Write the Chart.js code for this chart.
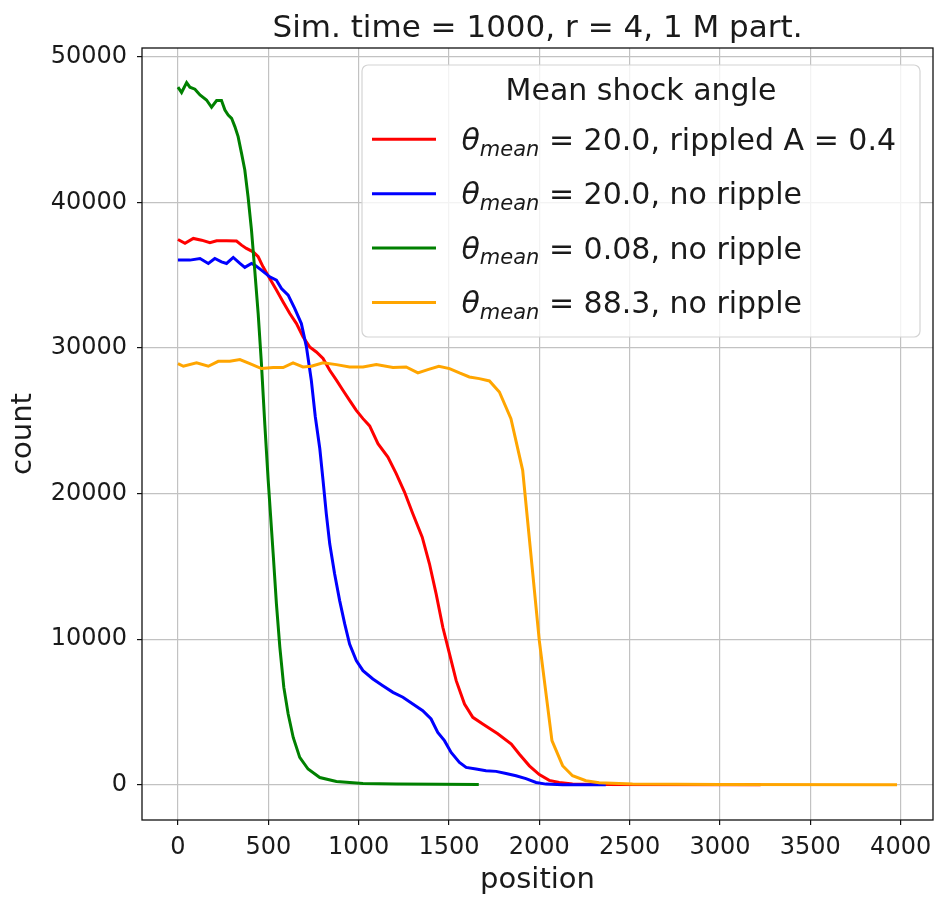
<!DOCTYPE html>
<html>
<head>
<meta charset="utf-8">
<title>Sim. time = 1000, r = 4, 1 M part.</title>
<script src="https://cdn.jsdelivr.net/npm/chart.js@4.4.0/dist/chart.umd.min.js"></script>
<style>
  html, body { margin: 0; padding: 0; background: #fff; }
  canvas { display: block; }
</style>
</head>
<body>
<canvas id="chart" width="936" height="900"></canvas>
<script>
// particle count vs. position, one pair of arrays per run
const redPos = [0, 39, 85, 131, 177, 214, 269, 324, 352, 379, 416, 444, 471, 508, 545, 582, 619, 656, 692, 729,
  766, 803, 840, 877, 913, 950, 987, 1024, 1061, 1107, 1162, 1208, 1254, 1300, 1352, 1392, 1429, 1466, 1503, 1540,
  1586, 1632, 1687, 1770, 1845, 1890, 1945, 2000, 2055, 2110, 2184, 2300, 3225];
const redCount = [37460, 37190, 37530, 37410, 37230, 37370, 37370, 37350, 37070, 36840, 36610, 36270, 35580, 34780, 33980, 33170, 32370, 31680, 30770, 30080,
  29730, 29280, 28470, 27790, 27100, 26410, 25720, 25150, 24650, 23430, 22510, 21370, 20110, 18620, 17010, 15180, 13110, 10820, 8990, 7150,
  5550, 4630, 4170, 3500, 2800, 2100, 1300, 700, 300, 150, 50, 20, 0];

const bluePos = [0, 66, 122, 168, 204, 241, 269, 306, 343, 370, 407, 425, 462, 508, 545, 573, 610, 646, 683, 711,
  738, 760, 785, 803, 821, 840, 867, 895, 923, 950, 987, 1024, 1079, 1134, 1190, 1245, 1300, 1355, 1401, 1438,
  1475, 1512, 1558, 1595, 1650, 1705, 1761, 1816, 1871, 1926, 1982, 2037, 2129, 2368];
const blueCount = [36040, 36040, 36150, 35810, 36150, 35920, 35810, 36220, 35810, 35540, 35810, 35700, 35350, 34890, 34660, 34090, 33630, 32720, 31680, 30080,
  27790, 25300, 23100, 20910, 18620, 16550, 14490, 12650, 11050, 9670, 8530, 7840, 7270, 6810, 6350, 6010, 5550, 5090, 4520, 3600,
  3030, 2220, 1540, 1190, 1080, 960, 920, 780, 620, 420, 160, 45, 5, 0];

const greenPos = [0, 20, 48, 66, 94, 122, 158, 186, 214, 241, 260, 278, 297, 315, 333, 352, 370, 388, 407, 425,
  444, 462, 481, 499, 527, 545, 564, 586, 610, 638, 674, 720, 785, 877, 1024, 1208, 1450, 1665];
const greenCount = [47920, 47550, 48230, 47920, 47780, 47380, 47040, 46540, 47000, 47000, 46350, 46010, 45780, 45210, 44520, 43370, 42230, 40390, 38100, 35350,
  32370, 28930, 24700, 21000, 15870, 12430, 9440, 6690, 4860, 3250, 1880, 1080, 500, 230, 90, 50, 30, 20];

const orangePos = [0, 30, 103, 168, 223, 287, 343, 398, 462, 527, 582, 637, 692, 738, 803, 877, 950, 1024, 1098, 1190,
  1263, 1328, 1383, 1444, 1503, 1558, 1613, 1668, 1724, 1779, 1843, 1908, 2000, 2070, 2129, 2184, 2258, 2331, 2516, 3000, 3980];
const orangeCount = [28930, 28750, 28980, 28750, 29090, 29090, 29210, 28930, 28590, 28660, 28660, 28980, 28700, 28750, 28980, 28860, 28700, 28700, 28860, 28660,
  28700, 28290, 28520, 28750, 28590, 28290, 28010, 27900, 27740, 26980, 25150, 21600, 9900, 3030, 1310, 620, 275, 140, 45, 10, 0];

const seriesAngles = ['20.0', '20.0', '0.08', '88.3'];
const seriesNotes = ['rippled A = 0.4', 'no ripple', 'no ripple', 'no ripple'];
const seriesColors = ['red', 'blue', 'green', 'orange'];

const positionTicks = [0, 500, 1000, 1500, 2000, 2500, 3000, 3500, 4000];
const countTicks = [0, 10000, 20000, 30000, 40000, 50000];

const chartTitle = 'Sim. time = 1000, r = 4, 1 M part.';

const FONT = "'DejaVu Sans', 'Liberation Sans', sans-serif";
Chart.defaults.font.family = FONT;
Chart.defaults.color = '#1a1a1a';

function toPoints(xs, ys) {
  return xs.map((x, i) => ({ x: x, y: ys[i] }));
}

const runs = [
  toPoints(redPos, redCount),
  toPoints(bluePos, blueCount),
  toPoints(greenPos, greenCount),
  toPoints(orangePos, orangeCount)
];

// title centred over the plot area rather than the whole canvas
const plotTitle = {
  id: 'plotTitle',
  afterDraw(chart) {
    const { ctx, chartArea: a } = chart;
    ctx.save();
    ctx.fillStyle = '#1a1a1a';
    ctx.font = '31px ' + FONT;
    ctx.textAlign = 'center';
    ctx.textBaseline = 'alphabetic';
    ctx.fillText(chartTitle, (a.left + a.right) / 2, a.top - 11);
    ctx.restore();
  }
};

// black box around the plot area, like matplotlib spines
const frame = {
  id: 'frame',
  afterDatasetsDraw(chart) {
    const { ctx, chartArea: a } = chart;
    ctx.save();
    ctx.strokeStyle = '#111';
    ctx.lineWidth = 1.3;
    ctx.strokeRect(a.left, a.top, a.right - a.left, a.bottom - a.top);
    ctx.restore();
  }
};

// legend with a title and theta_mean subscripts
const shockLegend = {
  id: 'shockLegend',
  afterDatasetsDraw(chart) {
    const { ctx, chartArea: a } = chart;
    const right = a.right - 13, left = right - 558;
    const top = a.top + 17, bottom = top + 272;
    const r = 6;

    ctx.save();
    ctx.beginPath();
    ctx.moveTo(left + r, top);
    ctx.arcTo(right, top, right, bottom, r);
    ctx.arcTo(right, bottom, left, bottom, r);
    ctx.arcTo(left, bottom, left, top, r);
    ctx.arcTo(left, top, right, top, r);
    ctx.closePath();
    ctx.fillStyle = 'rgba(255,255,255,0.8)';
    ctx.fill();
    ctx.strokeStyle = '#d4d4d4';
    ctx.lineWidth = 1.2;
    ctx.stroke();

    ctx.fillStyle = '#1a1a1a';
    ctx.textBaseline = 'alphabetic';
    ctx.textAlign = 'center';
    ctx.font = '30px ' + FONT;
    ctx.fillText('Mean shock angle', (left + right) / 2, top + 35);

    ctx.textAlign = 'left';
    chart.data.datasets.forEach((ds, i) => {
      const y = top + 74.3 + i * 54.4;
      ctx.strokeStyle = ds.borderColor;
      ctx.lineWidth = 3;
      ctx.beginPath();
      ctx.moveTo(left + 10, y);
      ctx.lineTo(left + 74, y);
      ctx.stroke();

      const base = y + 10.7;
      let x = left + 99.5;
      ctx.font = 'italic 30px ' + FONT;
      ctx.fillText('θ', x, base);
      x += ctx.measureText('θ').width;
      ctx.font = 'italic 21px ' + FONT;
      ctx.fillText('mean', x, base + 5.5);
      x += ctx.measureText('mean').width;
      ctx.font = '30px ' + FONT;
      ctx.fillText(' = ' + seriesAngles[i] + ', ' + seriesNotes[i], x, base);
    });
    ctx.restore();
  }
};

new Chart(document.getElementById('chart'), {
  type: 'line',
  data: {
    datasets: runs.map((pts, i) => ({
      label: 'θmean = ' + seriesAngles[i] + ', ' + seriesNotes[i],
      data: pts,
      borderColor: seriesColors[i],
      backgroundColor: seriesColors[i],
      borderWidth: 3,
      pointRadius: 0,
      tension: 0,
      fill: false,
      order: 4 - i
    }))
  },
  options: {
    responsive: false,
    animation: false,
    devicePixelRatio: 1,
    layout: { padding: { left: 0, right: 3, top: 48, bottom: 0 } },
    plugins: {
      legend: { display: false },
      tooltip: { enabled: false },
      title: { display: false }
    },
    scales: {
      x: {
        type: 'linear',
        min: -199,
        max: 4179,
        afterFit(scale) {
          scale.height = 80;
          scale.paddingLeft = 0;
          scale.paddingRight = 0;
        },
        afterBuildTicks(scale) { scale.ticks = positionTicks.map(v => ({ value: v })); },
        ticks: {
          autoSkip: false,
          maxRotation: 0,
          padding: 8,
          color: '#1a1a1a',
          font: { size: 24 },
          callback: v => String(v)
        },
        grid: {
          color: '#c2c2c2',
          lineWidth: 1.2,
          tickLength: 5,
          tickColor: '#111',
          tickWidth: 1.2
        },
        border: { display: false },
        title: {
          display: true,
          text: 'position',
          color: '#1a1a1a',
          font: { size: 29 },
          padding: { top: 0, bottom: 2 }
        }
      },
      y: {
        type: 'linear',
        min: -2420,
        max: 50610,
        afterFit(scale) { scale.width = 142; },
        afterBuildTicks(scale) { scale.ticks = countTicks.map(v => ({ value: v })); },
        ticks: {
          autoSkip: false,
          padding: 10,
          color: '#1a1a1a',
          font: { size: 24 },
          callback: v => String(v)
        },
        grid: {
          color: '#c2c2c2',
          lineWidth: 1.2,
          tickLength: 5,
          tickColor: '#111',
          tickWidth: 1.2
        },
        border: { display: false },
        title: {
          display: true,
          text: 'count',
          color: '#1a1a1a',
          font: { size: 29 },
          padding: { top: 6, bottom: 0 }
        }
      }
    }
  },
  plugins: [frame, shockLegend, plotTitle]
});
</script>
</body>
</html>
